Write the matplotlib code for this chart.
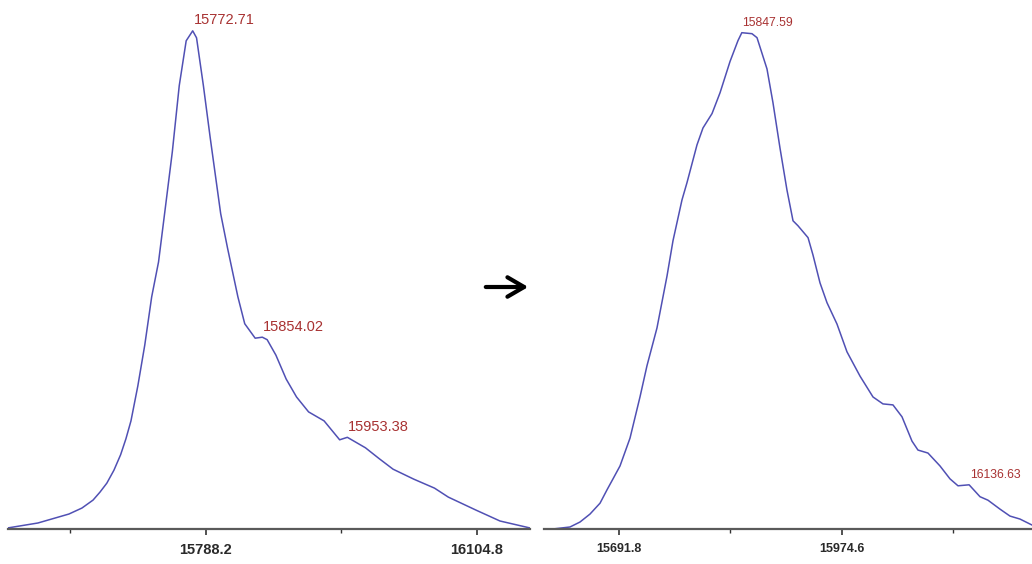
import matplotlib
matplotlib.use('Agg')
import matplotlib.pyplot as plt
from matplotlib.ticker import FixedLocator

plt.rcParams['font.family'] = ['Liberation Sans', 'DejaVu Sans']

# ===== deconvoluted spectrum before (left)
mass_before = [15556.4, 15591.9, 15628.1, 15643.3, 15656.3, 15664.4, 15672.4, 15680.7,
               15688.5, 15694.7, 15700.6, 15708.6, 15716.7, 15724.8, 15732.8, 15740.9,
               15748.9, 15757.0, 15765.1, 15772.71, 15777.2, 15785.2, 15793.2, 15805.4,
               15813.4, 15825.5, 15833.5, 15845.7, 15854.02, 15859.7, 15869.9, 15881.9,
               15894.0, 15908.1, 15926.2, 15944.4, 15953.38, 15974.5, 15990.7, 16006.8,
               16031.0, 16055.2, 16071.3, 16103.5, 16131.7, 16166.8]
inten_before = [0.2, 1.2, 3.0, 4.2, 5.8, 7.4, 9.2, 11.8,
                14.9, 18.1, 21.7, 28.7, 36.9, 46.6, 53.6, 64.7,
                75.7, 89.0, 98.0, 100.0, 98.6, 89.0, 78.5, 63.3,
                56.4, 46.6, 41.2, 38.3, 38.5, 38.0, 34.9, 30.1,
                26.5, 23.5, 21.7, 17.9, 18.4, 16.3, 14.1, 12.0,
                10.0, 8.2, 6.4, 3.8, 1.6, 0.2]
peaks_before = [15772.71, 15854.02, 15953.38]
ticks_before = [15788.2, 16104.8]
minor_before = [15629.9, 15946.5]

# ===== deconvoluted spectrum after (right)
mass_after = [15607.5, 15629.1, 15641.8, 15654.5, 15667.3, 15676.2, 15683.8, 15692.7,
              15705.4, 15718.1, 15727.0, 15739.7, 15752.5, 15760.1, 15771.5, 15777.9,
              15790.6, 15798.2, 15809.7, 15819.9, 15832.6, 15842.7, 15847.59, 15860.5,
              15866.9, 15879.6, 15887.2, 15896.1, 15905.0, 15912.7, 15919.0, 15931.8,
              15938.1, 15947.0, 15955.9, 15968.6, 15981.3, 15997.9, 16014.4, 16027.1,
              16039.8, 16051.3, 16064.0, 16071.6, 16084.3, 16099.6, 16112.3, 16122.5,
              16136.63, 16150.5, 16160.6, 16175.9, 16188.6, 16201.3, 16214.0, 16216.6]
inten_after = [0.0, 0.4, 1.4, 3.0, 5.2, 7.9, 10.1, 12.7,
               18.3, 26.6, 32.9, 40.5, 51.0, 58.1, 66.3, 69.8,
               77.4, 80.8, 83.7, 87.9, 94.2, 98.4, 100.0, 99.8,
               99.0, 92.7, 85.9, 76.8, 68.3, 62.1, 61.1, 58.7,
               55.2, 49.6, 45.6, 41.3, 35.7, 30.8, 26.6, 25.2,
               25.0, 22.6, 17.7, 15.9, 15.3, 12.7, 10.1, 8.7,
               8.9, 6.5, 5.8, 4.0, 2.6, 2.0, 1.0, 0.8]
peaks_after = [15847.59, 16136.63]
ticks_after = [15691.8, 15974.6]
minor_after = [15833.2, 16116.0]

line_color = '#5050b4'
label_color = '#a83232'


def draw_spectrum(ax, mass, inten, peaks, ticks, minor, xlim, ylim, tick_size, label_size):
    ax.plot(mass, inten, color=line_color, lw=1.1)
    for p in peaks:
        y = inten[mass.index(p)]
        ax.annotate('{:.2f}'.format(p), (p, y), xytext=(0.5, 2.5), textcoords='offset points',
                    ha='left', va='bottom', color=label_color, fontsize=label_size)
    ax.set_xlim(*xlim)
    ax.set_ylim(*ylim)
    for side in ['left', 'right', 'top']:
        ax.spines[side].set_visible(False)
    ax.spines['bottom'].set_color('#5a5a5a')
    ax.spines['bottom'].set_linewidth(1.6)
    ax.set_yticks([])
    ax.set_xticks(ticks)
    ax.set_xticklabels(['{:.1f}'.format(t) for t in ticks], fontweight='bold')
    ax.xaxis.set_minor_locator(FixedLocator(minor))
    ax.tick_params(axis='x', which='major', length=4, width=1.2, color='#333333',
                   labelsize=tick_size, labelcolor='#2a2a2a', pad=6)
    ax.tick_params(axis='x', which='minor', length=3, width=1.0, color='#333333')


fig = plt.figure(figsize=(10.32, 5.64), dpi=100)

ax1 = fig.add_axes([0.0078, 0.0621, 0.5058, 0.938])
draw_spectrum(ax1, mass_before, inten_before, peaks_before, ticks_before, minor_before,
              (15557.0, 16166.8), (0, 106.2), 10.5, 10.5)

ax2 = fig.add_axes([0.5271, 0.0621, 0.4729, 0.938])
draw_spectrum(ax2, mass_after, inten_after, peaks_after, ticks_after, minor_after,
              (15596.0, 16216.6), (0, 106.6), 9, 8.8)

# arrow between the two spectra
fig.patches.append(matplotlib.patches.FancyArrowPatch(
    (483 / 1032, 1 - 287 / 564), (531 / 1032, 1 - 287 / 564),
    transform=fig.transFigure, arrowstyle='->,head_length=0.6,head_width=0.35',
    mutation_scale=20, lw=3, color='black'))

fig.savefig('out.png', dpi=100)
